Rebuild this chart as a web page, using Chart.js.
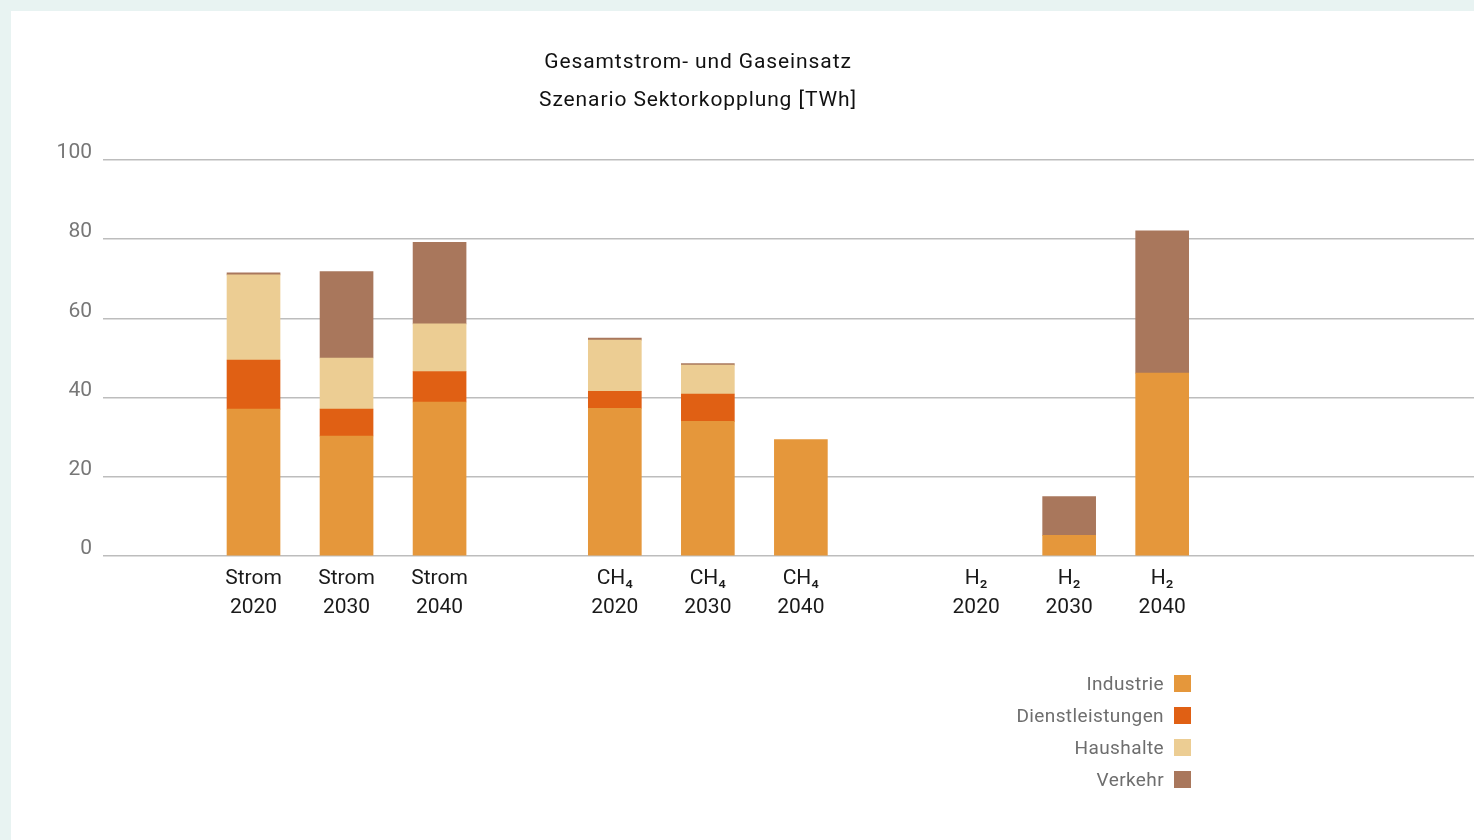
<!DOCTYPE html>
<html lang="de">
<head>
<meta charset="UTF-8">
<title>Gesamtstrom- und Gaseinsatz</title>
<script src="https://cdn.jsdelivr.net/npm/chart.js@4.4.0/dist/chart.umd.min.js"></script>
<style>
  html, body { margin: 0; padding: 0; }
  body {
    width: 1474px; height: 840px; overflow: hidden; position: relative;
    background: #e8f3f2; font-family: Roboto, sans-serif;
  }
  .panel { position: absolute; left: 11px; top: 11px; right: 0; bottom: 0; background: #fff; }
  .chart-box { position: absolute; left: 0; top: 0; width: 1474px; height: 840px; }
  .title {
    position: absolute; left: 448px; top: 42px; width: 500px;
    text-align: center; font-size: 21px; line-height: 38px; color: #111;
    letter-spacing: 0.9px;
  }
  .legend { position: absolute; right: 283px; top: 667px; }
  .legend div {
    height: 32px; display: flex; align-items: center; justify-content: flex-end;
    font-size: 19px; color: #6e6e6e; letter-spacing: 0.4px;
  }
  .legend span { display: inline-block; width: 17px; height: 17px; margin-left: 10px; }
</style>
</head>
<body>
<div class="panel"></div>
<div class="chart-box"><canvas id="myChart" width="1474" height="840"></canvas></div>
<div class="title">Gesamtstrom- und Gaseinsatz<br>Szenario Sektorkopplung [TWh]</div>
<div class="legend" id="legend"></div>

<script>
  // Kategorien: Energieträger x Jahr
  var traeger = ['Strom', 'CH\u2084', 'H\u2082'];
  var jahre = ['2020', '2030', '2040'];

  // Werte in TWh, Reihenfolge: Strom 20/30/40, CH4 20/30/40, H2 20/30/40
  var industrie        = [37.1, 30.3, 38.9, 37.3, 34.0, 29.4, 0, 5.2, 46.2];
  var dienstleistungen = [12.4, 6.8, 7.7, 4.3, 6.9, 0, 0, 0, 0];
  var haushalte        = [21.5, 12.9, 12.0, 12.9, 7.3, 0, 0, 0, 0];
  var verkehr          = [0.5, 21.8, 20.6, 0.5, 0.4, 0, 0, 9.8, 35.9];

  var yTicks = [0, 20, 40, 60, 80, 100];

  var reihen = [
    { label: 'Industrie', data: industrie, color: '#e5973b' },
    { label: 'Dienstleistungen', data: dienstleistungen, color: '#e06014' },
    { label: 'Haushalte', data: haushalte, color: '#eccd93' },
    { label: 'Verkehr', data: verkehr, color: '#a9775c' }
  ];

  var labels = [];
  traeger.forEach(function(t) {
    jahre.forEach(function(j) { labels.push([t, j]); });
  });

  // Gruppen liegen etwas enger als zwei leere Plaetze auseinander
  var groupStep = 3.884;
  var xPos = labels.map(function(l, i) { return Math.floor(i / 3) * groupStep + (i % 3); });

  var ctx = document.getElementById('myChart').getContext('2d');
  var myChart = new Chart(ctx, {
    type: 'bar',
    data: {
      datasets: reihen.map(function(r) {
        return {
          label: r.label,
          // leere Segmente gar nicht zeichnen
          data: r.data.map(function(v, i) { return { x: xPos[i], y: v === 0 ? null : v }; }),
          backgroundColor: r.color,
          borderWidth: 0,
          barThickness: 53
        };
      })
    },
    options: {
      responsive: false,
      animation: false,
      layout: { padding: { top: 160, left: 0, right: 0, bottom: 0 } },
      plugins: {
        legend: { display: false },
        title: { display: false },
        tooltip: { enabled: false }
      },
      scales: {
        x: {
          type: 'linear',
          stacked: true,
          offset: false,
          bounds: 'data',
          min: -1.618,
          max: 13.12,
          grid: { display: false, offset: false },
          border: { display: false },
          afterBuildTicks: function(axis) {
            axis.ticks = xPos.map(function(v) { return { value: v }; });
          },
          afterFit: function(axis) { axis.height = 284; },
          ticks: {
            autoSkip: false,
            maxRotation: 0,
            padding: 0,
            color: '#1a1a1a',
            font: { family: 'Roboto', size: 21, lineHeight: 1.38 },
            callback: function(value, index) { return labels[index]; }
          }
        },
        y: {
          stacked: true,
          min: 0,
          max: 100,
          afterBuildTicks: function(axis) {
            axis.ticks = yTicks.map(function(v) { return { value: v }; });
          },
          afterFit: function(axis) { axis.width = 103; },
          grid: { color: '#bdbdbd', lineWidth: 1.5, drawTicks: false },
          border: { display: false },
          ticks: {
            padding: 11,
            labelOffset: -7,
            color: '#777',
            font: { family: 'Roboto', size: 21 }
          }
        }
      }
    }
  });

  var legend = document.getElementById('legend');
  reihen.forEach(function(r) {
    var row = document.createElement('div');
    row.textContent = r.label;
    var box = document.createElement('span');
    box.style.background = r.color;
    row.appendChild(box);
    legend.appendChild(row);
  });
</script>
</body>
</html>
